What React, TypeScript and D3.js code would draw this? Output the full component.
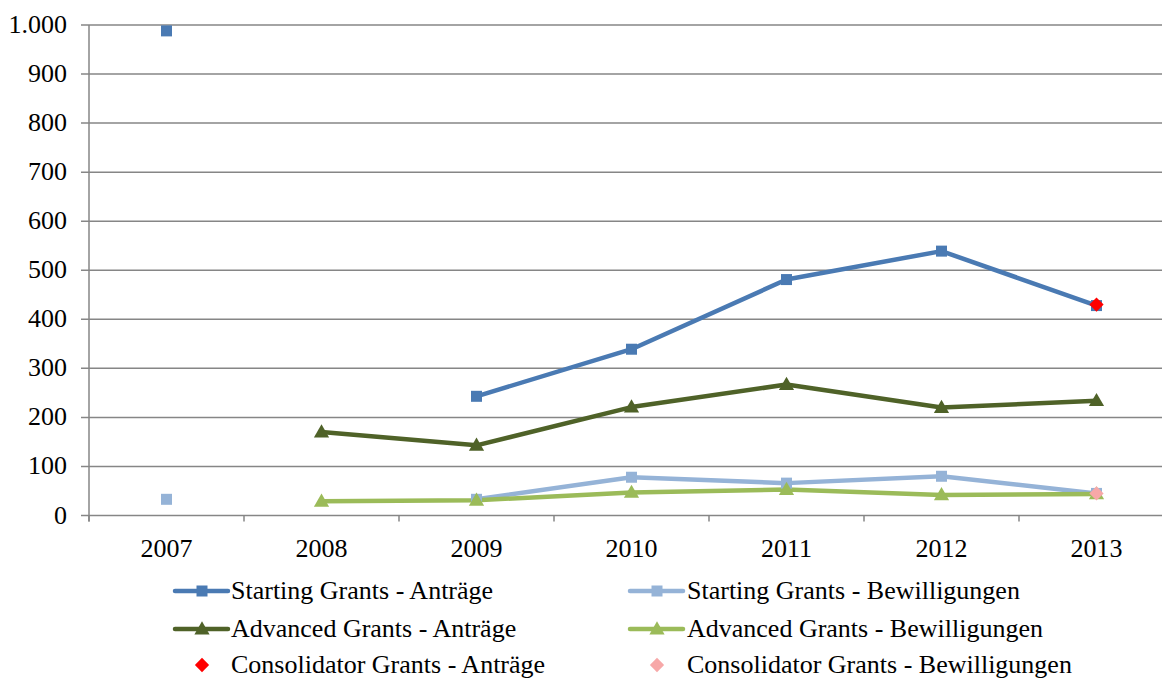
import React from "react";
import * as d3 from "d3";

const years = ["2007", "2008", "2009", "2010", "2011", "2012", "2013"];
const startingAntraege: (number | null)[] = [988, null, 243, 339, 481, 539, 428];
const startingBewilligungen: (number | null)[] = [33, null, 33, 78, 66, 80, 45];
const advancedAntraege: (number | null)[] = [null, 170, 143, 221, 267, 220, 234];
const advancedBewilligungen: (number | null)[] = [null, 29, 31, 47, 53, 42, 44];
const consolidatorAntraege: (number | null)[] = [null, null, null, null, null, null, 430];
const consolidatorBewilligungen: (number | null)[] = [null, null, null, null, null, null, 45];
const yTicks = [0, 100, 200, 300, 400, 500, 600, 700, 800, 900, 1000];

type Series = {
  name: string;
  values: (number | null)[];
  color: string;
  marker: "square" | "triangle" | "diamond";
  line: boolean;
};

const series: Series[] = [
  { name: "Starting Grants - Anträge", values: startingAntraege, color: "#4A7AB3", marker: "square", line: true },
  { name: "Starting Grants - Bewilligungen", values: startingBewilligungen, color: "#95B3D7", marker: "square", line: true },
  { name: "Advanced Grants - Anträge", values: advancedAntraege, color: "#4F6228", marker: "triangle", line: true },
  { name: "Advanced Grants - Bewilligungen", values: advancedBewilligungen, color: "#9BBB59", marker: "triangle", line: true },
  { name: "Consolidator Grants - Anträge", values: consolidatorAntraege, color: "#FF0000", marker: "diamond", line: false },
  { name: "Consolidator Grants - Bewilligungen", values: consolidatorBewilligungen, color: "#F7A8A8", marker: "diamond", line: false },
];

const W = 1162;
const H = 679;
const left = 89;
const right = 1174;
const top = 25;
const bottom = 515.5;
const FONT = "Liberation Serif";
const FS = 26;

function Marker({ type, x, y, color }: { type: string; x: number; y: number; color: string }) {
  if (type === "square") {
    return <rect x={x - 5.5} y={y - 5.5} width={11} height={11} fill={color} />;
  }
  if (type === "triangle") {
    const s = d3.symbol().type(d3.symbolTriangle).size(100)();
    return <path d={s || ""} transform={`translate(${x},${y + 1})`} fill={color} />;
  }
  const s = d3.symbol().type(d3.symbolDiamond2).size(130)();
  return <path d={s || ""} transform={`translate(${x},${y})`} fill={color} />;
}

export default function App() {
  const x = d3.scaleBand<string>().domain(years).range([left, right]);
  const y = d3.scaleLinear().domain([0, 1000]).range([bottom, top]);
  const cx = (yr: string) => (x(yr) ?? 0) + x.bandwidth() / 2;

  const lineGen = d3
    .line<number | null>()
    .defined((d) => d !== null)
    .x((_, i) => cx(years[i]))
    .y((d) => y(d as number));

  const boundaries = d3.range(years.length + 1).map((i) => left + i * x.bandwidth());

  const legendRows = [591, 629, 665];
  const legendCols = [{ lineX: 175, textX: 231 }, { lineX: 630, textX: 687 }];

  return (
    <svg width={W} height={H} style={{ display: "block", position: "absolute", left: 0, top: 0 }}>
      <rect width={W} height={H} fill="#fff" />
      {yTicks.map((t) => (
        <g key={t}>
          <line x1={left - 8} x2={right} y1={y(t)} y2={y(t)} stroke="#868686" strokeWidth={1.5} />
          <text x={67} y={y(t) + 8} textAnchor="end" fontFamily={FONT} fontSize={FS} fill="#000">
            {d3.format(",")(t).replace(/,/g, ".")}
          </text>
        </g>
      ))}
      <line x1={left} x2={left} y1={top} y2={bottom + 6} stroke="#868686" strokeWidth={1.5} />
      {boundaries.map((b, i) => (
        <line key={i} x1={b} x2={b} y1={bottom} y2={bottom + 6} stroke="#868686" strokeWidth={1.5} />
      ))}
      {years.map((yr) => (
        <text key={yr} x={cx(yr)} y={557} textAnchor="middle" fontFamily={FONT} fontSize={FS} fill="#000">
          {yr}
        </text>
      ))}
      {series.map((s) =>
        s.line ? (
          <path key={s.name} d={lineGen(s.values) || ""} fill="none" stroke={s.color} strokeWidth={4.5} strokeLinejoin="round" />
        ) : null
      )}
      {series.map((s) =>
        s.values.map((v, i) =>
          v === null ? null : <Marker key={s.name + i} type={s.marker} x={cx(years[i])} y={y(v)} color={s.color} />
        )
      )}
      {series.map((s, i) => {
        const col = legendCols[i % 2];
        const ry = legendRows[Math.floor(i / 2)];
        const mx = col.lineX + 27;
        return (
          <g key={s.name}>
            {s.line && <line x1={col.lineX} x2={col.lineX + 53} y1={ry} y2={ry} stroke={s.color} strokeWidth={4.5} strokeLinecap="round" />}
            <Marker type={s.marker} x={mx} y={ry} color={s.color} />
            <text x={col.textX} y={ry + 8} fontFamily={FONT} fontSize={FS} fill="#000">
              {s.name}
            </text>
          </g>
        );
      })}
    </svg>
  );
}
